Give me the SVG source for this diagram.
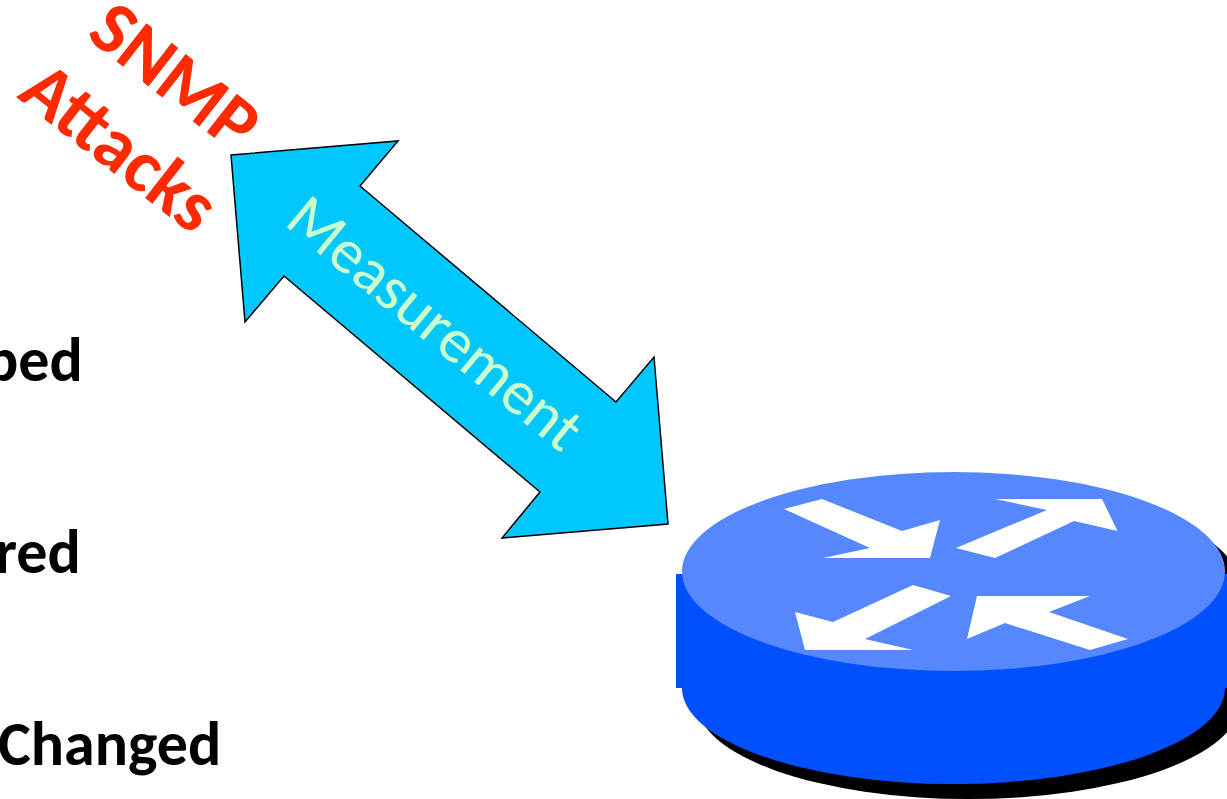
<svg xmlns="http://www.w3.org/2000/svg" width="1227" height="799" viewBox="0 0 1227 799">
<style>
.lbl{font-family:"Carlito","Lato",sans-serif;font-size:63px;fill:#ccffcc}
.b{font-family:"Carlito","Lato",sans-serif;font-weight:700;font-size:62px;fill:#000}
.r{font-family:"Carlito","Lato",sans-serif;font-weight:700;font-size:75px;fill:#ff2a00}
.w{fill:#fff}
</style>
<defs>
<path id="body" d="M676 574H1227V688H1225A271.500 96 0 0 1 682 688H676Z"/>
</defs>
<rect width="1227" height="799" fill="#fff"/>
<g id="labels">
<text class="b" x="-15" y="381">ped</text>
<text class="b" x="-5" y="573">red</text>
<text class="b" x="-2" y="765">Changed</text>
</g>
<g id="snmp">
<text class="r" transform="translate(85 37) rotate(38)">SNMP</text>
<text class="r" transform="translate(16 97) rotate(38)">Attacks</text>
</g>
<g id="connectors">
<polygon id="arrow" points="231,155 398,141 360,186 616,402 654,357 668,524 502,538 540,492 284,276 245,322" fill="#00c8ff" stroke="#000" stroke-width="1.500"/>
<text class="lbl" transform="translate(283 224) rotate(39.500)">Measurement</text>
</g>
<g id="router">
<use href="#body" x="15" y="15" fill="#000"/>
<ellipse cx="968" cy="586" rx="271.500" ry="99.500" fill="#000"/>
<use href="#body" fill="#0050ff"/>
<ellipse cx="953.500" cy="571.500" rx="271.500" ry="99.500" fill="#5588ff"/>
<polygon class="w" points="784,509 822,499 902,531 940,520 930,558 823,558 870,548"/>
<polygon class="w" points="995,499 1102,499 1117.500,531 1074,521 995,558 956,548 1047,510"/>
<polygon class="w" points="913,585 951,596 865,639 913,650 805,650 795,612 833,622"/>
<polygon class="w" points="977,596 1090,596 1049,612 1128,639 1090,650 1005,623 967,639"/>
</g>
</svg>
